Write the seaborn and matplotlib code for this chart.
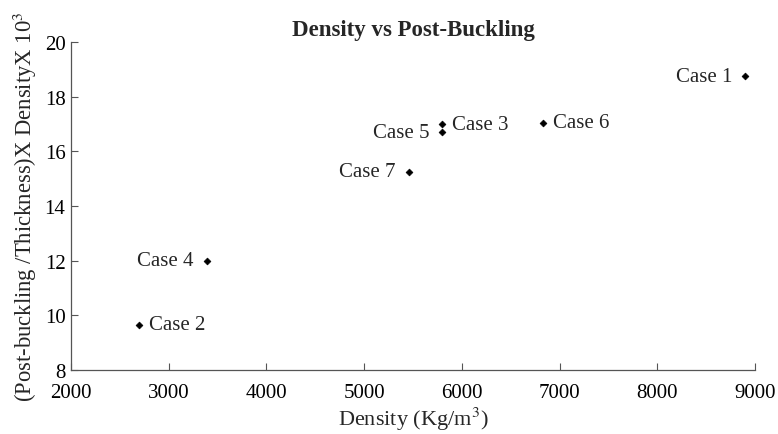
import matplotlib
matplotlib.use("Agg")
import matplotlib.pyplot as plt
import seaborn as sns
import pandas as pd

cases = ["Case 1", "Case 2", "Case 3", "Case 4", "Case 5", "Case 6", "Case 7"]
density = [8900, 2700, 5800, 3390, 5800, 6830, 5460]
post_buckling = [18.75, 9.65, 17.0, 12.0, 16.7, 17.05, 15.25]
label_side = ["left", "right", "right", "left", "left", "right", "left"]

df = pd.DataFrame({"case": cases, "density": density, "pb": post_buckling, "side": label_side})

sns.set_style("ticks")
plt.rcParams["font.family"] = ["Liberation Serif", "DejaVu Serif"]
plt.rcParams["mathtext.fontset"] = "stix"

fig = plt.figure(figsize=(7.78, 4.35), dpi=100)
ax = fig.add_axes([0.0913, 0.147, 0.879, 0.754])

sns.scatterplot(data=df, x="density", y="pb", marker="D", s=12, color="black",
                edgecolor="black", linewidth=0.5, ax=ax, legend=False)

for _, r in df.iterrows():
    if r["side"] == "left":
        ax.annotate(r["case"], (r["density"], r["pb"]), xytext=(-9.5, 0),
                    textcoords="offset points", ha="right", va="center", fontsize=15)
    else:
        ax.annotate(r["case"], (r["density"], r["pb"]), xytext=(7, 0),
                    textcoords="offset points", ha="left", va="center", fontsize=15)

ax.set_xlim(2000, 9000)
ax.set_ylim(8, 20)
ax.set_xticks(range(2000, 9001, 1000))
ax.set_yticks(range(8, 21, 2))
ax.tick_params(direction="in", length=5, width=0.8, labelsize=15, colors="#555555",
               labelcolor="black")
ax.tick_params(axis="x", pad=9)
ax.tick_params(axis="y", pad=4)
for s in ["top", "right"]:
    ax.spines[s].set_visible(False)
for s in ["left", "bottom"]:
    ax.spines[s].set_color("#555555")
    ax.spines[s].set_linewidth(0.9)

ax.set_title("Density vs Post-Buckling", fontsize=16.5, fontweight="bold", pad=5)
ax.set_xlabel("Density (Kg/m$^3$)", fontsize=16, labelpad=2.5)
ax.set_ylabel("(Post-buckling /Thickness)X DensityX 10$^3$", fontsize=16.3, labelpad=4)

fig.savefig("out.png", dpi=100)
